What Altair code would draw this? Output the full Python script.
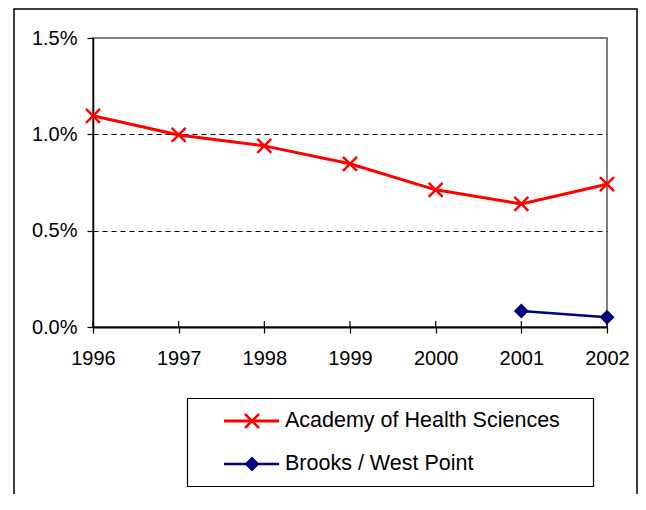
import altair as alt
import pandas as pd

years = [1996, 1997, 1998, 1999, 2000, 2001, 2002]
ahs = [0.01096, 0.00997, 0.00940, 0.00847, 0.00712, 0.00639, 0.00741]
brooks_years = [2001, 2002]
brooks = [0.00083, 0.00050]
series_names = ["Academy of Health Sciences", "Brooks / West Point"]
series_colors = ["#FF0000", "#000080"]
y_ticks = [0.0, 0.005, 0.010, 0.015]

W, H = 514, 289
FONT = "Liberation Sans"

df_a = pd.DataFrame({"year": years, "value": ahs, "series": series_names[0]})
df_b = pd.DataFrame({"year": brooks_years, "value": brooks, "series": series_names[1]})
df_years = pd.DataFrame({"year": years})
one = pd.DataFrame({"k": [0]})

x_enc = alt.X(
    "year:Q",
    scale=alt.Scale(domain=[1996, 2002], nice=False, zero=False),
    axis=alt.Axis(values=years, format="d", title=None, grid=False, tickSize=6,
                  labelPadding=15, labelFlush=False, labelOverlap=False,
                  domainColor="black", domainWidth=2,
                  tickColor="black", tickWidth=1.2, labelFontSize=20,
                  labelFont=FONT, labelColor="black", labelFontWeight="normal"),
)
y_enc = alt.Y(
    "value:Q",
    scale=alt.Scale(domain=[0, 0.015], nice=False),
    axis=alt.Axis(values=y_ticks, format=".1%", title=None, grid=True,
                  gridColor="black", gridDash=[5, 4], gridWidth=1,
                  gridOpacity={"condition": {"test": "datum.value <= 0 || datum.value >= 0.015", "value": 0}, "value": 1},
                  tickSize=6, labelPadding=10, labelFlush=False, labelOverlap=False,
                  domainColor="black", domainWidth=1.5,
                  tickColor="black", tickWidth=1.2, labelFontSize=20,
                  labelFont=FONT, labelColor="black"),
)

X_PATH = "M-1,-1L1,1M-1,1L1,-1"

line_a = alt.Chart(df_a).mark_line(color=series_colors[0], strokeWidth=3).encode(x=x_enc, y=y_enc)
pts_a = alt.Chart(df_a).mark_point(shape=X_PATH, filled=False, color=series_colors[0],
                                   strokeWidth=2.5, size=196, opacity=1).encode(x=x_enc, y=y_enc)
line_b = alt.Chart(df_b).mark_line(color=series_colors[1], strokeWidth=2.5).encode(x=x_enc, y=y_enc)
pts_b = alt.Chart(df_b).mark_point(shape="diamond", filled=True, color=series_colors[1],
                                   size=225, opacity=1).encode(x=x_enc, y=y_enc)

# upper half of the crossing x-axis ticks
tick_up = alt.Chart(df_years).mark_rule(color="black", strokeWidth=1.2).encode(
    x=x_enc, y=alt.value(H - 6), y2=alt.value(H))

outer = alt.Chart(one).mark_rect(fillOpacity=0, stroke="black", strokeWidth=1.5).encode(
    x=alt.value(-79), x2=alt.value(544), y=alt.value(-29), y2=alt.value(500))

legend_box = alt.Chart(one).mark_rect(fill="white", stroke="black", strokeWidth=1.2).encode(
    x=alt.value(94.5), x2=alt.value(500.5), y=alt.value(360.5), y2=alt.value(448.5))

legend_layers = [legend_box]
for i, (name, color) in enumerate(zip(series_names, series_colors)):
    ly = 383 + i * 43
    ldf = pd.DataFrame({"series": [name]})
    legend_layers.append(alt.Chart(ldf).mark_rule(color=color, strokeWidth=3 if i == 0 else 2.5).encode(
        x=alt.value(131), x2=alt.value(186), y=alt.value(ly)))
    if i == 0:
        legend_layers.append(alt.Chart(ldf).mark_point(shape=X_PATH, filled=False, color=color,
                                                       strokeWidth=2.5, size=196, opacity=1).encode(
            x=alt.value(159), y=alt.value(ly)))
    else:
        legend_layers.append(alt.Chart(ldf).mark_point(shape="diamond", filled=True, color=color,
                                                       size=225, opacity=1).encode(
            x=alt.value(159), y=alt.value(ly)))
    legend_layers.append(alt.Chart(ldf).mark_text(align="left", baseline="middle", fontSize=21.5,
                                                  font=FONT, color="black").encode(
        x=alt.value(192), y=alt.value(ly), text="series:N"))

chart = alt.layer(
    outer, line_a, pts_a, line_b, pts_b, tick_up, *legend_layers
).properties(
    width=W, height=H,
    autosize=alt.AutoSizeParams(type="none"),
    padding={"left": 85, "top": 30, "right": 31, "bottom": 167},
    background="white",
).configure_view(stroke="#808080", strokeWidth=2)

chart.save("out.html", embed_options={"renderer": "svg", "actions": False})
